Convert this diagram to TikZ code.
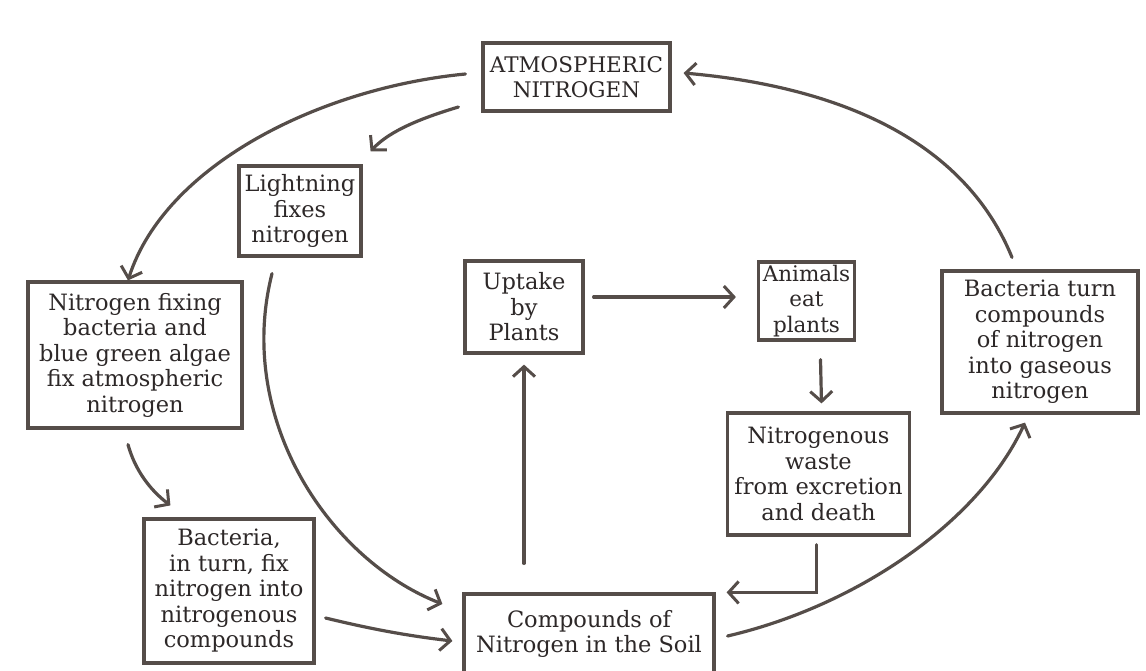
\documentclass[tikz,border=0pt]{standalone}
\usepackage{fontspec}
\setmainfont{DejaVu Serif}
\usetikzlibrary{arrows.meta,calc}
\definecolor{ink}{RGB}{85,77,73}
\definecolor{txt}{RGB}{45,40,40}
\tikzset{
  box/.style={draw=ink, line width=3.2pt, align=center, text=txt, inner sep=0pt,
    font=\fontsize{22.5}{25.5}\selectfont},
  flow/.style={draw=ink, line width=3.2pt, line cap=round,
    -{Straight Barb[length=10pt,width=22pt,line width=3pt]}}
}
\begin{document}
\begin{tikzpicture}[x=1pt,y=-1pt]
\useasboundingbox (0,0) rectangle (1146,670);
\fill[white] (0,0) rectangle (1146,670);
\node[box, minimum width=187pt, minimum height=68pt, font=\fontsize{21.5}{25.5}\selectfont] (atm) at (576.5,77) {ATMOSPHERIC\\NITROGEN};
\node[box, minimum width=122pt, minimum height=90pt] (light) at (300,211) {Lightning\\fixes\\nitrogen};
\node[box, minimum width=214pt, minimum height=146pt] (nfix) at (135,355) {Nitrogen fixing\\bacteria and\\blue green algae\\fix atmospheric\\nitrogen};
\node[box, minimum width=170pt, minimum height=144pt] (bact) at (229,591) {Bacteria,\\in turn, fix\\nitrogen into\\nitrogenous\\compounds};
\node[box, minimum width=250pt, minimum height=80pt] (soil) at (589,634) {Compounds of\\Nitrogen in the Soil};
\node[box, minimum width=118pt, minimum height=92pt] (uptake) at (524,307) {Uptake\\by\\Plants};
\node[box, minimum width=96pt, minimum height=78pt, font=\fontsize{21.5}{25.5}\selectfont] (animals) at (806.5,301) {Animals\\eat\\plants};
\node[box, minimum width=182pt, minimum height=122pt] (waste) at (818.5,474) {Nitrogenous\\waste\\from excretion\\and death};
\node[box, minimum width=196pt, minimum height=142pt] (bturn) at (1040,342) {Bacteria turn\\compounds\\of nitrogen\\into gaseous\\nitrogen};

% atmospheric nitrogen -> nitrogen fixing bacteria
\draw[flow] ($(atm.west)+(-16,-3)$) .. controls (320,88) and (165,165) .. ($(nfix.north)+(-7,0)$);
% atmospheric nitrogen -> lightning
\draw[flow] ($(atm.west)+(-23,30)$) .. controls (425,117) and (390,130) .. ($(light.north east)+(8,-13)$);
% lightning -> soil
\draw[flow] ($(light.south)+(-28,16)$) .. controls (235,420) and (330,560) .. ($(soil.west)+(-20,-30)$);
% nitrogen fixing -> bacteria in turn
\draw[flow] ($(nfix.south)+(-7,15)$) .. controls (135,470) and (150,490) .. ($(bact.north west)+(28,-12)$);
% bacteria in turn -> soil
\draw[flow] ($(bact.east)+(10,27)$) .. controls (375,630) and (410,636) .. ($(soil.west)+(-10,7)$);
% soil -> uptake
\draw[flow] ($(soil.north)+(-65,-29)$) -- ($(uptake.south)+(0,10)$);
% uptake -> animals
\draw[flow] ($(uptake.east)+(9,-10)$) -- ($(animals.west)+(-21,-4)$);
% animals -> waste
\draw[flow] ($(animals.south)+(14,18)$) -- ($(waste.north)+(3,-8)$);
% waste -> soil
\draw[flow] ($(waste.south)+(-2,8)$) |- ($(soil.north east)+(11,0)$);
% soil -> bacteria turn
\draw[flow] ($(soil.east)+(12,2)$) .. controls (860,605) and (980,520) .. ($(bturn.south)+(-15,8)$);
% bacteria turn -> atmospheric nitrogen
\draw[flow] ($(bturn.north)+(-28,-12)$) .. controls (960,130) and (820,85) .. ($(atm.east)+(12,-4)$);
\end{tikzpicture}
\end{document}
